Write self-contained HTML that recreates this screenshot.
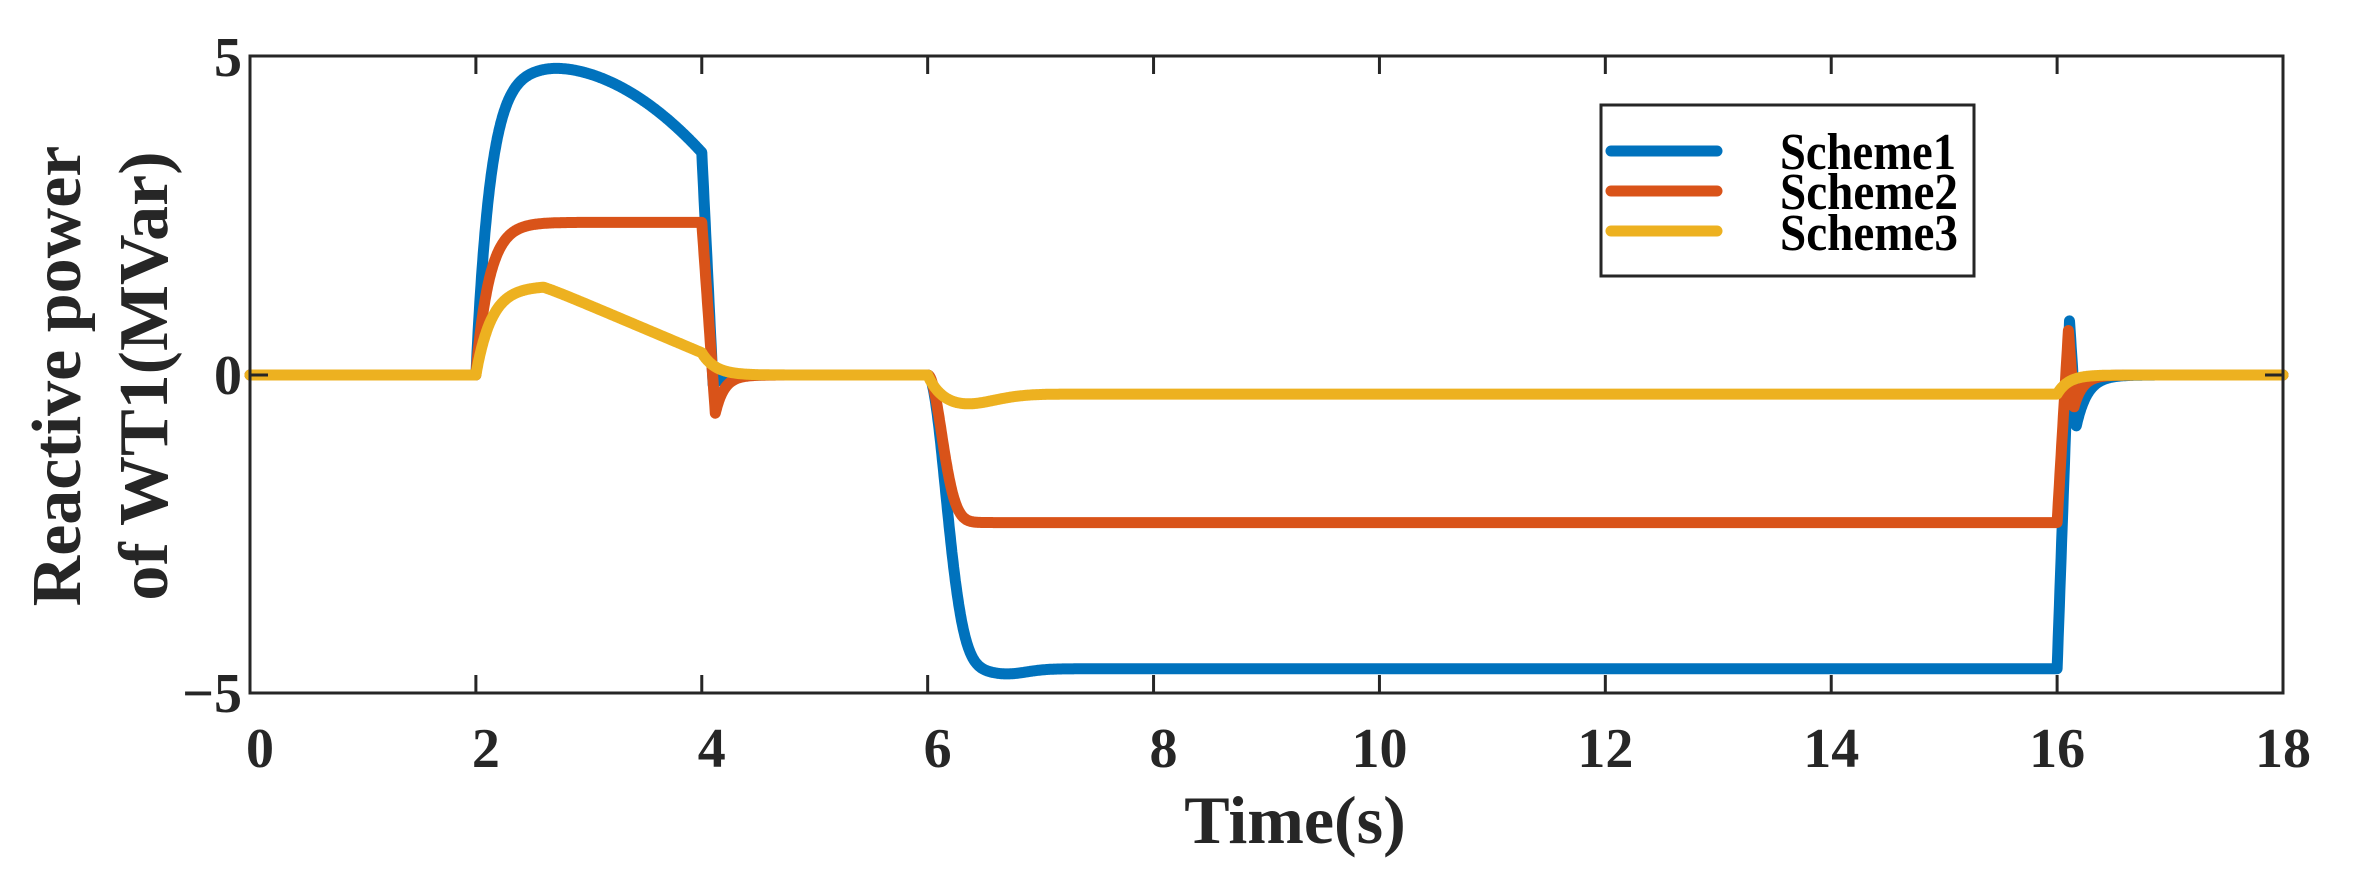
<!DOCTYPE html>
<html><head><meta charset="utf-8"><style>
html,body{margin:0;padding:0;background:#fff;}
svg{display:block;font-family:"Liberation Serif",serif;font-weight:bold;}
</style></head><body>
<svg id="s" width="2362" height="879" viewBox="0 0 2362 879" xmlns="http://www.w3.org/2000/svg">
<rect width="2362" height="879" fill="#fff"/>
<g id="curves" fill="none" stroke-width="11" stroke-linejoin="round" stroke-linecap="round"></g>
<rect x="250" y="56" width="2033" height="637" fill="none" stroke="#262626" stroke-width="3"/>
<g id="ticks" stroke="#262626" stroke-width="3"></g>
<g fill="#262626" font-size="56" text-anchor="end">
<text x="242" y="76">5</text>
<text x="242" y="394">0</text>
<text x="242" y="712"><tspan>−5</tspan></text>
</g>
<g id="xl" fill="#262626" font-size="56" text-anchor="middle"></g>
<text x="1295" y="843" font-size="68" text-anchor="middle" fill="#262626">Time(s)</text>
<g fill="#262626" font-size="70" text-anchor="middle">
<text transform="translate(80,376) rotate(-90)">Reactive power</text>
<text transform="translate(167,376) rotate(-90)">of WT1(MVar)</text>
</g>
<rect x="1601" y="105" width="373" height="171" fill="#fff" stroke="#262626" stroke-width="3"/>
<line x1="1611" y1="151" x2="1717" y2="151" stroke="#0072BD" stroke-width="11" stroke-linecap="round"/>
<line x1="1611" y1="191" x2="1717" y2="191" stroke="#D95319" stroke-width="11" stroke-linecap="round"/>
<line x1="1611" y1="231" x2="1717" y2="231" stroke="#EDB120" stroke-width="11" stroke-linecap="round"/>
<g fill="#000" font-size="52">
<text x="1780" y="169" textLength="176" lengthAdjust="spacingAndGlyphs">Scheme1</text>
<text x="1780" y="209" textLength="178" lengthAdjust="spacingAndGlyphs">Scheme2</text>
<text x="1780" y="250" textLength="178" lengthAdjust="spacingAndGlyphs">Scheme3</text>
</g>
</svg>
<script>
var NS="http://www.w3.org/2000/svg";
function X(t){return 250+t*2033/18;}
function Y(v){return 375-v*63.6;}
var E=Math.exp;
function blue(t){
 if(t<2)return 0;
 if(t<4){var b=4.85-1.35*Math.pow(Math.max(0,(t-2.6)/1.4),2);return b*(1-E(-(t-2)/0.13));}
 if(t<4.1){return 3.5+(-0.15-3.5)*(t-4)/0.1;}
 if(t<6)return -0.15*E(-(t-4.1)/0.08);
 if(t<16){var s=t-6;return -4.62*(1-E(-s*s/0.05)) - 0.08*E(-Math.pow((t-6.7)/0.25,2));}
 if(t<16.11)return -4.62+(0.85+4.62)*(t-16)/0.11;
 if(t<16.17)return 0.85+(-0.8-0.85)*(t-16.11)/0.06;
 return -0.8*E(-(t-16.17)/0.1);
}
function orange(t){
 if(t<2)return 0;
 if(t<4)return 2.4*(1-E(-(t-2)/0.12));
 if(t<4.12)return 2.4+(-0.6-2.4)*(t-4)/0.12;
 if(t<6)return -0.6*E(-(t-4.12)/0.08);
 if(t<16){var s=t-6;return -2.32*(1-E(-s*s/0.03));}
 if(t<16.1)return -2.32+(0.7+2.32)*(t-16)/0.1;
 if(t<16.15)return 0.7+(-0.5-0.7)*(t-16.1)/0.05;
 return -0.5*E(-(t-16.15)/0.08);
}
function yellow(t){
 if(t<2)return 0;
 if(t<4){var k=Math.max(0,t-2.6);return (1.4-0.75*k)*(1-E(-(t-2)/0.14));}
 if(t<6)return 0.35*E(-(t-4)/0.12);
 if(t<16){return -(1-E(-(t-6)/0.1))*(0.3+0.17*E(-Math.pow((t-6.3),2)/0.15));}
 return -0.3*E(-(t-16)/0.1);
}
var g=document.getElementById("curves");
[[blue,"#0072BD"],[orange,"#D95319"],[yellow,"#EDB120"]].forEach(function(p){
 var d="";
 for(var t=0;t<=18.0001;t+=0.005){d+=(d?"L":"M")+X(t).toFixed(1)+" "+Y(p[0](t)).toFixed(1);}
 var e=document.createElementNS(NS,"path");e.setAttribute("d",d);e.setAttribute("stroke",p[1]);g.appendChild(e);
});
var tk=document.getElementById("ticks"),xl=document.getElementById("xl");
for(var i=0;i<=18;i+=2){
 var x=X(i);
 if(i>0&&i<18){
 var l=document.createElementNS(NS,"line");l.setAttribute("x1",x);l.setAttribute("x2",x);l.setAttribute("y1",693);l.setAttribute("y2",675);tk.appendChild(l);
 l=document.createElementNS(NS,"line");l.setAttribute("x1",x);l.setAttribute("x2",x);l.setAttribute("y1",56);l.setAttribute("y2",74);tk.appendChild(l);}
 var tx=document.createElementNS(NS,"text");tx.setAttribute("x",x+(i>=10?0:10));tx.setAttribute("y",767);tx.textContent=i;xl.appendChild(tx);
}
[[250,268],[2283,2265]].forEach(function(a){
 var l=document.createElementNS(NS,"line");l.setAttribute("x1",a[0]);l.setAttribute("x2",a[1]);l.setAttribute("y1",375);l.setAttribute("y2",375);tk.appendChild(l);
});
</script>
</body></html>
